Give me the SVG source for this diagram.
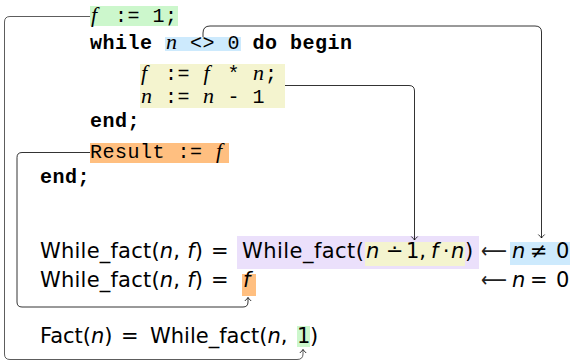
<svg xmlns="http://www.w3.org/2000/svg" width="570" height="362" viewBox="0 0 570 362">
<defs>
<marker id="arr" viewBox="-5 -5 10 10" markerWidth="10" markerHeight="10" markerUnits="userSpaceOnUse" orient="auto" refX="0" refY="0">
<path d="M-3.5,-3.2 Q-1,-0.6 0,0 Q-1,0.6 -3.5,3.2" fill="none" stroke="#000" stroke-width="0.8"/>
</marker>
</defs>
<style>
.code{font-family:"Liberation Mono",monospace;font-size:20px;letter-spacing:0.5px;fill:#000}
.kw{font-weight:bold}
.mi{font-family:"Liberation Serif",serif;font-style:italic;font-size:22px;letter-spacing:0}
.m{font-family:"DejaVu Sans",sans-serif;font-size:21px;fill:#000}
.it{font-style:italic}
.la{font-family:"DejaVu Sans",sans-serif;fill:#222}
.conn{fill:none;stroke:#000;stroke-width:0.8}
.green{fill:#ccf7cc}
.blue{fill:#cdeafd}
.yellow{fill:#f4f4cf}
.orange{fill:#ffbf80}
.purple{fill:#ebe0fb}
</style>
<rect width="570" height="362" fill="#fff"/>

<g id="init">
<rect class="green" x="90" y="6" width="88" height="20"/>
<text class="code" y="22"><tspan class="mi" x="91">f</tspan><tspan x="115">:=</tspan><tspan x="152.5">1;</tspan></text>
</g>

<g id="while">
<text class="code" y="49"><tspan class="kw" x="90">while</tspan><tspan class="kw" x="252.5">do</tspan><tspan class="kw" x="290">begin</tspan></text>
</g>

<g id="cond">
<rect class="blue" x="165" y="37" width="76" height="14"/>
<text class="code" y="49"><tspan class="mi" x="166">n</tspan><tspan x="190">&lt;&gt;</tspan><tspan x="227.5">0</tspan></text>
</g>

<g id="body">
<rect class="yellow" x="140" y="64" width="145" height="44"/>
<text class="code" y="80"><tspan class="mi" x="141">f</tspan><tspan x="165">:=</tspan><tspan class="mi" x="203.5">f</tspan><tspan x="227.5">*</tspan><tspan class="mi" x="253">n</tspan><tspan x="265">;</tspan></text>
<text class="code" y="103"><tspan class="mi" x="141">n</tspan><tspan x="165">:=</tspan><tspan class="mi" x="203">n</tspan><tspan x="227.5">-</tspan><tspan x="252.5">1</tspan></text>
</g>

<g id="end1">
<text class="code kw" x="90" y="127">end;</text>
</g>

<g id="result">
<rect class="orange" x="90" y="143" width="139" height="20"/>
<text class="code" y="158"><tspan x="90">Result</tspan><tspan x="177.5">:=</tspan><tspan class="mi" x="216">f</tspan></text>
</g>

<g id="end2">
<text class="code kw" x="40" y="183">end;</text>
</g>

<g id="eq1">
<text class="m" x="40" y="258" textLength="163" lengthAdjust="spacing">While_fact(<tspan class="it">n</tspan>, <tspan class="it">f</tspan>)</text>
<text class="m" x="211" y="258">=</text>
</g>

<g id="rec">
<rect class="purple" x="237" y="236" width="242" height="33"/>
<rect class="yellow" x="365" y="242" width="100" height="24"/>
<text class="m" x="242" y="258" textLength="122" lengthAdjust="spacing">While_fact(</text>
<text class="m" y="258"><tspan class="it" x="366">n</tspan><tspan x="386">∸</tspan><tspan x="406">1,</tspan><tspan class="it" x="431">f</tspan><tspan x="443">⋅</tspan><tspan class="it" x="451">n</tspan><tspan x="465">)</tspan></text>
</g>

<g id="guard1">
<rect class="blue" x="510" y="242" width="60" height="23"/>
<text class="m" y="258"><tspan class="la" x="481" textLength="26" lengthAdjust="spacingAndGlyphs">⟵</tspan><tspan class="it" x="512">n</tspan><tspan x="530">≠</tspan><tspan x="556">0</tspan></text>
</g>

<g id="eq2">
<rect class="orange" x="242" y="274" width="14" height="22"/>
<text class="m" x="40" y="287" textLength="163" lengthAdjust="spacing">While_fact(<tspan class="it">n</tspan>, <tspan class="it">f</tspan>)</text>
<text class="m" y="287"><tspan x="211">=</tspan><tspan class="it" x="243">f</tspan></text>
</g>

<g id="guard2">
<text class="m" y="287"><tspan class="la" x="481" textLength="26" lengthAdjust="spacingAndGlyphs">⟵</tspan><tspan class="it" x="512">n</tspan><tspan x="530">=</tspan><tspan x="556">0</tspan></text>
</g>

<g id="fact">
<rect class="green" x="297" y="326" width="13" height="21"/>
<text class="m" y="343"><tspan x="40">Fact(</tspan><tspan class="it">n</tspan>)<tspan x="121">=</tspan><tspan x="150">While_fact(</tspan><tspan class="it">n</tspan>,<tspan x="297">1</tspan><tspan x="310">)</tspan></text>
</g>

<g id="connectors">
<path class="conn" style="stroke:#333" d="M90,16.5 H10 Q4.5,16.5 4.5,22 V354 Q4.5,359.5 10,359.5 H297 Q303,359.5 303,354 V349.5" marker-end="url(#arr)"/>
<path class="conn" d="M90,152.5 H22 Q17,152.5 17,157.5 V302 Q17,307 22,307 H243 Q248,307 248,302 V297.5" marker-end="url(#arr)"/>
<path class="conn" d="M285,85.5 H409 Q414.5,85.5 414.5,91 V240" marker-end="url(#arr)"/>
<path class="conn" d="M203,37 V33 Q203,26 210,26 H535 Q541.5,26 541.5,32 V238" marker-end="url(#arr)"/>
</g>
</svg>
